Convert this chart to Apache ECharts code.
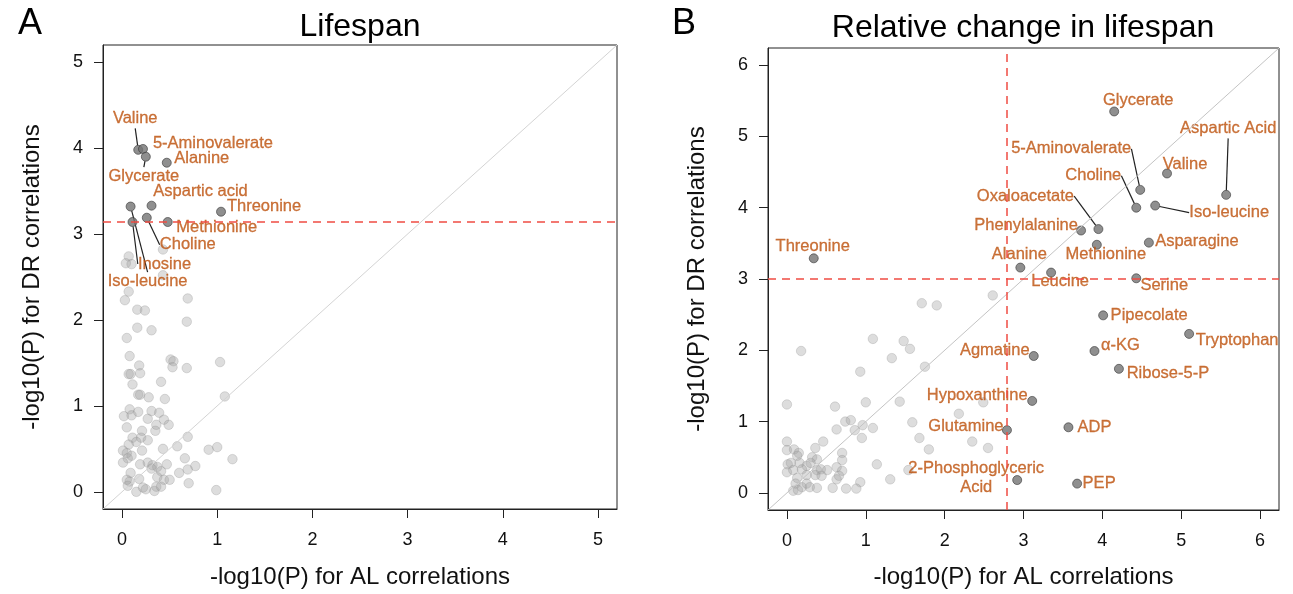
<!DOCTYPE html>
<html>
<head>
<meta charset="utf-8">
<script src="https://cdn.jsdelivr.net/npm/echarts@6/dist/echarts.min.js"></script>
<style>
  html, body { margin: 0; padding: 0; background: #fff; }
  #main { width: 1293px; height: 594px; }
</style>
</head>
<body>
<div id="main"></div>
<script>
// ---- data ----
const ticksA = [0, 1, 2, 3, 4, 5];
const ticksB = [0, 1, 2, 3, 4, 5, 6];

// panel A: Lifespan
const greyA = [
  [0.07,2.74],[0.04,2.66],[0.10,2.65],[0.43,2.82],[0.43,2.52],[0.07,2.33],[0.03,2.23],[0.69,2.25],
  [0.16,2.12],[0.24,2.11],[0.68,1.98],[0.16,1.91],[0.31,1.88],[0.05,1.79],[0.08,1.58],[0.51,1.54],
  [0.54,1.52],[0.18,1.47],[0.53,1.45],[0.68,1.44],[1.03,1.51],[0.07,1.37],[0.09,1.37],[0.19,1.38],
  [0.11,1.25],[0.41,1.28],[1.08,1.11],[0.17,1.13],[0.19,1.13],[0.28,1.10],[0.45,1.08],[0.08,0.96],
  [0.02,0.88],[0.10,0.89],[0.17,0.93],[0.31,0.94],[0.39,0.92],[0.27,0.85],[0.44,0.84],[0.49,0.78],
  [0.05,0.75],[0.36,0.78],[0.35,0.71],[0.21,0.71],[0.11,0.63],[0.20,0.63],[0.27,0.60],[0.69,0.64],
  [0.15,0.58],[0.07,0.55],[0.01,0.48],[0.05,0.45],[0.21,0.48],[0.43,0.50],[0.58,0.53],[0.91,0.49],
  [1.00,0.52],[0.06,0.39],[0.10,0.42],[0.66,0.39],[1.16,0.38],[0.01,0.34],[0.19,0.32],[0.27,0.34],
  [0.32,0.31],[0.37,0.29],[0.47,0.32],[0.77,0.30],[0.31,0.27],[0.41,0.24],[0.60,0.22],[0.69,0.26],
  [0.09,0.22],[0.05,0.14],[0.08,0.12],[0.18,0.15],[0.37,0.17],[0.44,0.14],[0.50,0.14],[0.06,0.07],
  [0.70,0.10],[0.15,0.00],[0.22,0.05],[0.25,0.03],[0.34,0.01],[0.36,0.06],[0.41,0.06],[0.99,0.02]
];
const namesA = ['Valine', '5-Aminovalerate', 'Glycerate', 'Alanine', 'Aspartic acid',
  'Threonine', 'Iso-leucine', 'Inosine', 'Choline', 'Methionine'];
const xA = [0.17, 0.22, 0.25, 0.47, 0.31, 1.04, 0.09, 0.11, 0.26, 0.48];
const yA = [3.98, 3.99, 3.90, 3.83, 3.33, 3.26, 3.32, 3.14, 3.19, 3.14];
const cutA = 3.14;

// panel B: Relative change in lifespan
const greyB = [
  [1.71,2.66],[1.90,2.63],[2.61,2.77],[0.18,1.99],[1.09,2.16],[1.48,2.13],[1.56,2.02],[1.33,1.89],
  [0.93,1.70],[1.75,1.77],[0.00,1.24],[0.61,1.21],[1.00,1.27],[1.43,1.28],[2.49,1.27],[2.18,1.11],
  [0.74,1.00],[0.81,1.02],[0.63,0.89],[0.86,0.88],[0.96,0.95],[1.09,0.91],[0.95,0.77],[1.59,0.99],
  [1.68,0.77],[1.80,0.61],[2.35,0.72],[2.55,0.63],[0.00,0.72],[0.00,0.60],[0.09,0.61],[0.15,0.56],
  [0.13,0.52],[0.46,0.72],[0.36,0.63],[0.70,0.56],[0.70,0.46],[0.32,0.50],[0.38,0.47],[0.01,0.40],
  [0.05,0.42],[0.16,0.42],[0.25,0.38],[0.30,0.42],[0.00,0.29],[0.08,0.32],[0.19,0.33],[0.38,0.32],
  [0.43,0.33],[0.51,0.32],[0.63,0.36],[0.70,0.31],[0.36,0.25],[0.44,0.24],[0.66,0.24],[0.63,0.19],
  [0.13,0.21],[0.25,0.25],[1.14,0.40],[1.31,0.19],[1.54,0.32],[0.93,0.15],[0.08,0.03],[0.11,0.13],
  [0.19,0.08],[0.25,0.13],[0.29,0.08],[0.38,0.07],[0.58,0.07],[0.75,0.06],[0.88,0.06],[0.14,0.04]
];
const namesB = ['Glycerate', 'Aspartic Acid', 'Valine', '5-Aminovalerate', 'Choline', 'Iso-leucine',
  'Oxaloacetate', 'Phenylalanine', 'Methionine', 'Asparagine', 'Alanine', 'Leucine', 'Serine',
  'Threonine', 'Pipecolate', 'α-KG', 'Ribose-5-P', 'Tryptophan', 'Agmatine', 'Hypoxanthine',
  'Glutamine', 'ADP', '2-Phosphoglyceric\nAcid', 'PEP'];
const xB = [4.15, 5.57, 4.82, 4.48, 4.43, 4.67, 3.95, 3.73, 3.93, 4.59, 2.96, 3.35, 4.43,
  0.34, 4.01, 3.90, 4.21, 5.10, 3.13, 3.11, 2.79, 3.57, 2.92, 3.68];
const yB = [5.35, 4.18, 4.48, 4.25, 4.00, 4.03, 3.70, 3.68, 3.48, 3.51, 3.16, 3.09, 3.01,
  3.29, 2.49, 1.99, 1.74, 2.23, 1.92, 1.29, 0.88, 0.92, 0.18, 0.13];
const cutBx = 2.79;
const cutBy = 3.0;

// ---- label placement (pixel offsets from the point, and leader lines) ----
const offA = [[-3,-31],[70,-6],[-2,20],[35,-4],[49,-14],[43,-5],[17,75],[32,42],[41,27],[49,5]];
const leadA = [true, false, true, false, false, false, true, true, true, false];
const offB = [[24,-11],[2,-66],[18,-9],[-69,-41],[-43,-32],[74,7],[-73,-33],[-55,-5],[9,10],
  [48,-1],[-1,-13],[9,9],[28,7],[-1,-12],[46,0],[26,-6],[49,5],[48,7],[-39,-6],[-55,-5],
  [-41,-4],[26,0],[-41,-2],[22,0]];
const leadB = [false, true, false, true, true, true, true, false, false, false, false, false, false,
  false, false, false, false, false, false, false, false, false, false, false];

const FONT = 'Liberation Sans, Arial, Helvetica, sans-serif';
const ORANGE = '#bd500b';
const RED = '#ef4c43';

function labelled(names, xs, ys, leads) {
  return names.map((n, i) => ({
    name: n,
    value: [xs[i], ys[i]],
    labelLine: { show: leads[i] }
  }));
}

function axis(grid, min, max, ticks, name, gap, isX) {
  return {
    type: 'value', gridIndex: grid, min: min, max: max,
    name: name, nameLocation: 'middle', nameGap: gap,
    nameTextStyle: { fontSize: 24, color: '#111', fontFamily: FONT },
    axisLine: { show: true, onZero: false, lineStyle: { color: '#222', width: 1 } },
    axisTick: { show: true, customValues: ticks, length: 9, lineStyle: { color: '#222', width: 1 } },
    axisLabel: { customValues: ticks, fontSize: 18, color: '#111', fontFamily: FONT, margin: isX ? 22 : 20 },
    splitLine: { show: false }
  };
}

function greySeries(xi, data, lines) {
  return {
    type: 'scatter', xAxisIndex: xi, yAxisIndex: xi, data: data,
    symbolSize: 9.5, z: 2, silent: true,
    itemStyle: { color: 'rgba(160,160,160,0.45)', borderColor: 'rgba(140,140,140,0.45)', borderWidth: 0.8 },
    markLine: { silent: true, symbol: 'none', label: { show: false }, data: lines }
  };
}

function darkSeries(xi, data, offs) {
  return {
    type: 'scatter', xAxisIndex: xi, yAxisIndex: xi, data: data,
    symbolSize: 9, z: 3, silent: true,
    itemStyle: { color: '#737373', borderColor: '#3a3a3a', borderWidth: 0.8 },
    label: {
      show: true, position: 'inside', formatter: '{b}', color: ORANGE,
      textBorderColor: ORANGE, textBorderWidth: 0.3,
      fontSize: 16.5, fontFamily: FONT, lineHeight: 19
    },
    labelLayout: function (p) {
      const o = offs[p.dataIndex];
      return { dx: o[0], dy: o[1] };
    },
    labelLine: { show: false, lineStyle: { color: '#222', width: 1.2 } }
  };
}

const diagStyle = (c) => ({ color: c, width: 1, type: 'solid' });
const redStyle = { color: RED, width: 1.5, type: [8, 6] };

const chart = echarts.init(document.getElementById('main'), null, { renderer: 'canvas' });

chart.setOption({
  animation: false,
  backgroundColor: '#fff',
  grid: [
    { left: 103, top: 45, width: 514, height: 465, show: true, borderColor: '#222', borderWidth: 1 },
    { left: 768, top: 48, width: 511, height: 465, show: true, borderColor: '#222', borderWidth: 1 }
  ],
  xAxis: [
    axis(0, -0.2, 5.2, ticksA, '-log10(P) for AL correlations', 56, true),
    axis(1, -0.24, 6.24, ticksB, '-log10(P) for AL correlations', 55, true)
  ],
  yAxis: [
    axis(0, -0.2, 5.2, ticksA, '-log10(P) for DR correlations', 59, false),
    axis(1, -0.24, 6.24, ticksB, '-log10(P) for DR correlations', 59, false)
  ],
  graphic: [
    { type: 'text', style: { x: 30, y: 24, text: 'A', font: '36px ' + FONT, fill: '#000', textAlign: 'center', textVerticalAlign: 'middle' } },
    { type: 'text', style: { x: 684, y: 24, text: 'B', font: '36px ' + FONT, fill: '#000', textAlign: 'center', textVerticalAlign: 'middle' } },
    { type: 'text', style: { x: 360, y: 27, text: 'Lifespan', font: '32px ' + FONT, fill: '#000', textAlign: 'center', textVerticalAlign: 'middle' } },
    { type: 'text', style: { x: 1023, y: 28, text: 'Relative change in lifespan', font: '32px ' + FONT, fill: '#000', textAlign: 'center', textVerticalAlign: 'middle' } }
  ],
  series: [
    greySeries(0, greyA, [
      [{ coord: [-0.2, -0.2], lineStyle: diagStyle('#d4d4d4') }, { coord: [5.2, 5.2] }],
      { yAxis: cutA, lineStyle: redStyle }
    ]),
    darkSeries(0, labelled(namesA, xA, yA, leadA), offA),
    greySeries(1, greyB, [
      [{ coord: [-0.24, -0.24], lineStyle: diagStyle('#c4c4c4') }, { coord: [6.24, 6.24] }],
      { yAxis: cutBy, lineStyle: redStyle },
      { xAxis: cutBx, lineStyle: redStyle }
    ]),
    darkSeries(1, labelled(namesB, xB, yB, leadB), offB)
  ]
});

window.onresize = function () {
  chart.resize();
};
</script>
</body>
</html>
